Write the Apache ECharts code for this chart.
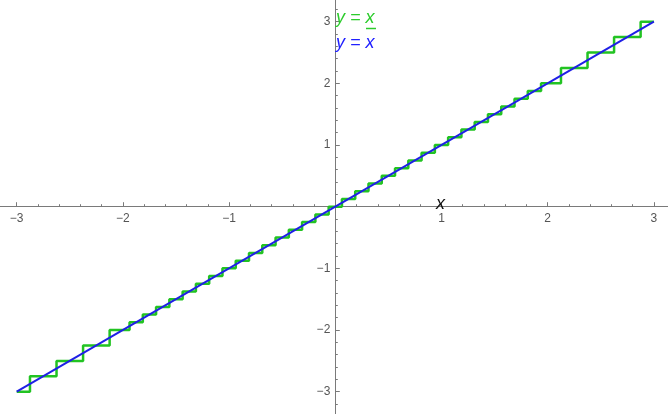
<!DOCTYPE html>
<html>
<head>
<meta charset="utf-8">
<script src="https://cdn.jsdelivr.net/npm/echarts@6/dist/echarts.min.js"></script>
<style>
html,body{margin:0;padding:0;background:#fff;}
#c{width:668px;height:414px;}
</style>
</head>
<body>
<div id="c"></div>
<script>
// Rounded staircase y = x̲ : level values and the x edges between them
const stepLevels = [-3, -2.75, -2.5, -2.25, -2, -1.875, -1.75, -1.625, -1.5, -1.375, -1.25, -1.125,
  -1, -0.875, -0.75, -0.625, -0.5, -0.375, -0.25, -0.125, 0, 0.125, 0.25, 0.375, 0.5, 0.625, 0.75,
  0.875, 1, 1.125, 1.25, 1.375, 1.5, 1.625, 1.75, 1.875, 2, 2.25, 2.5, 2.75, 3];
const stepEdges = [-3, -2.875, -2.625, -2.375, -2.125, -1.9375, -1.8125, -1.6875, -1.5625, -1.4375,
  -1.3125, -1.1875, -1.0625, -0.9375, -0.8125, -0.6875, -0.5625, -0.4375, -0.3125, -0.1875, -0.0625,
  0.0625, 0.1875, 0.3125, 0.4375, 0.5625, 0.6875, 0.8125, 0.9375, 1.0625, 1.1875, 1.3125, 1.4375,
  1.5625, 1.6875, 1.8125, 1.9375, 2.125, 2.375, 2.625, 2.875, 3];
// Identity line y = x
const lineX = [-3, 3];
const lineY = [-3, 3];

const stepData = [];
for (let i = 0; i < stepLevels.length; i++) {
  stepData.push([stepEdges[i], stepLevels[i]]);
  stepData.push([stepEdges[i + 1], stepLevels[i]]);
}
const lineData = lineX.map((x, i) => [x, lineY[i]]);

const fmt = function (v) {
  const n = Number(v);
  if (Math.abs(n) < 1e-9) return '';
  return n < 0 ? '\u2212' + (-n) : String(n);
};

const axisCol = '#7a7a7a';
const labCol = '#555';
const green = '#22c322';
const blue = '#1f1fe6';

// axis range [-4, 4]; grid sized so that 1 unit = 106.2 px (x), 61.67 px (y)
const ux = 106.2, uy = 61.67, x0 = 335.3, y0 = 206.7, R = 4;
const gW = 2 * R * ux, gH = 2 * R * uy;

const chart = echarts.init(document.getElementById('c'), null, {renderer: 'canvas'});
chart.setOption({
  animation: false,
  backgroundColor: '#fff',
  grid: {
    left: x0 - R * ux,
    top: y0 - R * uy,
    width: gW,
    height: gH,
    containLabel: false,
    outerBoundsMode: 'none'
  },
  xAxis: {
    type: 'value', min: -R, max: R, interval: 1, position: 'bottom', offset: -gH / 2,
    axisLine: {show: true, onZero: false, lineStyle: {color: axisCol, width: 1}},
    axisTick: {show: true, inside: true, length: 4.5, lineStyle: {color: axisCol}},
    minorTick: {show: true, splitNumber: 5, length: 2.5, lineStyle: {color: axisCol}},
    splitLine: {show: false},
    axisLabel: {show: true, hideOverlap: false, formatter: fmt, color: labCol, fontSize: 12,
      fontFamily: 'Liberation Sans', margin: 6}
  },
  yAxis: {
    type: 'value', min: -R, max: R, interval: 1, position: 'left', offset: -gW / 2,
    axisLine: {show: true, onZero: false, lineStyle: {color: axisCol, width: 1}},
    axisTick: {show: true, inside: true, length: 4.5, lineStyle: {color: axisCol}},
    minorTick: {show: true, splitNumber: 5, length: 2.5, lineStyle: {color: axisCol}},
    splitLine: {show: false},
    axisLabel: {show: true, hideOverlap: false, formatter: fmt, color: labCol, fontSize: 12,
      fontFamily: 'Liberation Sans', margin: 5}
  },
  series: [
    {
      type: 'line', data: stepData, showSymbol: false, symbol: 'none',
      lineStyle: {color: green, width: 2.5}, z: 2
    },
    {
      type: 'line', data: lineData, showSymbol: false, symbol: 'none',
      lineStyle: {color: blue, width: 2}, z: 3
    }
  ],
  graphic: [
    {type: 'text', left: 336, top: 9, z: 10, style: {text: 'y = x', fill: '#2ccc2c',
      font: 'italic 18px "Liberation Sans"'}},
    {type: 'line', z: 10, shape: {x1: 366, y1: 28.5, x2: 376, y2: 28.5}, style: {stroke: '#2ccc2c', lineWidth: 1.5}},
    {type: 'text', left: 336, top: 34, z: 10, style: {text: 'y = x', fill: '#2020ff',
      font: 'italic 18px "Liberation Sans"'}},
    {type: 'text', left: 436, top: 195, z: 10, style: {text: 'x', fill: '#111',
      font: 'italic 18px "Liberation Sans"'}}
  ]
});
</script>
</body>
</html>
